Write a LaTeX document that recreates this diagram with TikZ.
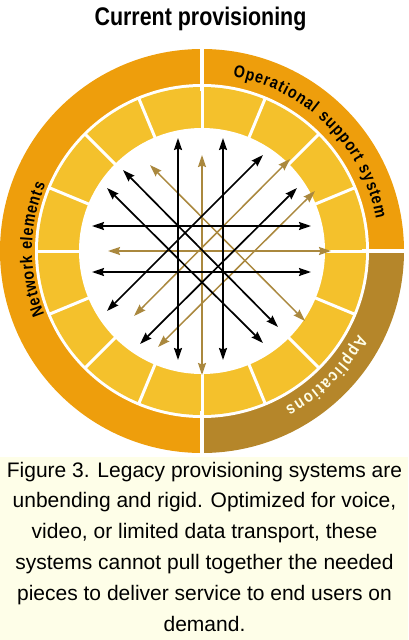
\documentclass[tikz,border=0pt]{standalone}
\usepackage{fontspec}
\setmainfont{Liberation Sans}
\newfontfamily\condfont[FakeStretch=0.84]{Liberation Sans}
\usetikzlibrary{arrows.meta,decorations.text,calc}
\definecolor{ringorange}{RGB}{238,158,12}
\definecolor{ringbrown}{RGB}{181,134,42}
\definecolor{segyellow}{RGB}{244,193,44}
\definecolor{arrowbrown}{RGB}{170,136,62}
\definecolor{capbg}{RGB}{254,254,232}
\begin{document}
\begin{tikzpicture}[x=1pt,y=1pt,
  blk/.style={line width=1.7pt, draw=black, {Stealth[length=12pt,width=8pt,inset=1.5pt]}-{Stealth[length=12pt,width=8pt,inset=1.5pt]}},
  brn/.style={line width=1.5pt, draw=arrowbrown, {Stealth[length=12pt,width=8pt,inset=1.5pt]}-{Stealth[length=12pt,width=8pt,inset=1.5pt]}},
  sepline/.style={draw=white, line width=3pt},
  bigsep/.style={draw=white, line width=4pt},
  capline/.style={anchor=base, font=\fontsize{21}{21}\selectfont, inner sep=0pt}]
\useasboundingbox (0,0) rectangle (408,-640);
\fill[white] (0,0) rectangle (408,-640);
\fill[capbg] (0,-457) rectangle (408,-640);
\coordinate (C) at (202,-251);
% outer ring
\fill[ringorange] (C) -- ++(90:202) arc[start angle=90,end angle=270,radius=202] -- cycle;
\fill[ringorange] (C) -- ++(0:202) arc[start angle=0,end angle=90,radius=202] -- cycle;
\fill[ringbrown] (C) -- ++(-90:202) arc[start angle=-90,end angle=0,radius=202] -- cycle;
\fill[white] (C) circle[radius=167];
\fill[segyellow] (C) circle[radius=164];
\fill[white] (C) circle[radius=123];
\foreach \a in {0,22.5,...,337.5} \draw[sepline] ($(C)+(\a:120)$) -- ($(C)+(\a:166)$);
\foreach \a in {0,90,270} \draw[bigsep] ($(C)+(\a:160)$) -- ($(C)+(\a:206)$);
% ring labels
\path[decorate, decoration={text along path, text align={fit to path},
  text={|\condfont\bfseries\fontsize{17}{17}\selectfont|Operational support system}}]
  ($(C)+(80:177)$) arc[start angle=80,end angle=10.5,radius=177];
\path[decorate, decoration={text along path, text align={fit to path},
  text={|\condfont\bfseries\fontsize{17}{17}\selectfont\color{capbg}|Applications}}]
  ($(C)+(-28:177)$) arc[start angle=-28,end angle=-62,radius=177];
\path[decorate, decoration={text along path, text align={fit to path},
  text={|\condfont\bfseries\fontsize{17}{17}\selectfont|Network elements}}]
  ($(C)+(202:170)$) arc[start angle=202,end angle=157,radius=170];
% arrows
\coordinate (v1a) at (178,-138); \coordinate (v1b) at (178,-360);
\coordinate (v2a) at (223,-138); \coordinate (v2b) at (223,-360);
\coordinate (v3a) at (202,-155); \coordinate (v3b) at (202,-375);
\coordinate (h1a) at (92,-226); \coordinate (h1b) at (311,-226);
\coordinate (h2a) at (92,-272); \coordinate (h2b) at (311,-272);
\coordinate (h3a) at (108,-251); \coordinate (h3b) at (331,-251);
\coordinate (d1a) at (107,-311); \coordinate (d1b) at (263,-155);
\coordinate (d2a) at (140,-344); \coordinate (d2b) at (297,-188);
\coordinate (d3a) at (134,-316); \coordinate (d3b) at (290,-159);
\coordinate (d4a) at (158,-347); \coordinate (d4b) at (315,-191);
\coordinate (e1a) at (123,-170); \coordinate (e1b) at (278,-327);
\coordinate (e2a) at (107,-188); \coordinate (e2b) at (263,-343);
\coordinate (e3a) at (150,-165); \coordinate (e3b) at (305,-321);
\draw[brn] (v3a) -- (v3b);
\draw[brn] (h3a) -- (h3b);
\draw[brn] (d3a) -- (d3b);
\draw[brn] (d4a) -- (d4b);
\draw[brn] (e3a) -- (e3b);
\draw[blk] (v1a) -- (v1b);
\draw[blk] (v2a) -- (v2b);
\draw[blk] (h1a) -- (h1b);
\draw[blk] (h2a) -- (h2b);
\draw[blk] (d1a) -- (d1b);
\draw[blk] (d2a) -- (d2b);
\draw[blk] (e1a) -- (e1b);
\draw[blk] (e2a) -- (e2b);
% title
\node[anchor=base, inner sep=0pt, font=\condfont\bfseries\fontsize{25.5}{25.5}\selectfont] (title) at (200.5,-25) {Current provisioning};
% caption
\node[capline] (cap1) at (204.5,-477) {Figure 3. Legacy provisioning systems are};
\node[capline] (cap2) at (204.5,-507.8) {unbending and rigid. Optimized for voice,};
\node[capline] (cap3) at (204.5,-538.6) {video, or limited data transport, these};
\node[capline] (cap4) at (204.5,-569.4) {systems cannot pull together the needed};
\node[capline] (cap5) at (204.5,-600.2) {pieces to deliver service to end users on};
\node[capline] (cap6) at (204.5,-631) {demand.};
\end{tikzpicture}
\end{document}
